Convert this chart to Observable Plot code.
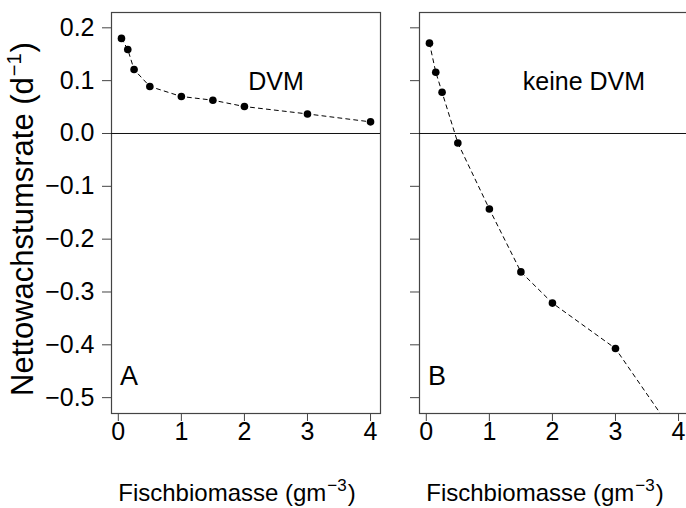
<!DOCTYPE html>
<html>
<head>
<meta charset="utf-8">
<script src="https://cdn.jsdelivr.net/npm/d3@7"></script>
<script src="https://cdn.jsdelivr.net/npm/@observablehq/plot@0.6"></script>
<style>
  html, body { margin: 0; padding: 0; background: #fff; }
  #wrap { position: relative; width: 686px; height: 508px; overflow: hidden; background: #fff; }
  #wrap svg { position: absolute; top: 0; }
</style>
</head>
<body>
<div id="wrap"></div>
<script>
// ---- data ----
const biomassDVM = [0.05, 0.15, 0.25, 0.5, 1, 1.5, 2, 3, 4];
const rateDVM    = [0.180, 0.159, 0.121, 0.089, 0.070, 0.063, 0.051, 0.037, 0.022];
const biomassNoDVM = [0.05, 0.15, 0.25, 0.5, 1, 1.5, 2, 3, 4];
const rateNoDVM    = [0.171, 0.116, 0.078, -0.018, -0.143, -0.262, -0.321, -0.407, -0.58];
const xTicks = [0, 1, 2, 3, 4];
const yTicks = [-0.5, -0.4, -0.3, -0.2, -0.1, 0.0, 0.1, 0.2];
const panelLabels = ["A", "B"];
const panelTitles = ["DVM", "keine DVM"];
const xTitleParts = ["Fischbiomasse (gm", "−3", ")"];
const yTitleParts = ["Nettowachstumsrate (d", "−1", ")"];

const dataA = biomassDVM.map((x, i) => ({x, y: rateDVM[i]}));
const dataB = biomassNoDVM.map((x, i) => ({x, y: rateNoDVM[i]}));

const FONT = "'Liberation Sans', Arial, Helvetica, sans-serif";
const TICK_FS = 25;
const xDomain = [-0.108, 4.158];
const yDomain = [-0.530, 0.229];
const INK = "#444";
const fmtY = d3.format(".1f");

function panel({data, width, marginLeft, marginRight, showYLabels, label, title}) {
  const marks = [
    Plot.frame({stroke: INK, strokeWidth: 1.2}),
    Plot.ruleY([0], {stroke: "#111", strokeWidth: 1}),
    Plot.axisX({ticks: xTicks, tickSize: 8, stroke: INK, label: null, text: null}),
    Plot.text(xTicks, {x: d => d, frameAnchor: "bottom", dy: 26, text: d => String(d), fontSize: TICK_FS, fill: "black", textAnchor: "middle"}),
    Plot.axisY({ticks: yTicks, tickSize: 9, stroke: INK, label: null, text: null}),
    Plot.line(data, {x: "x", y: "y", stroke: "black", strokeWidth: 1, strokeDasharray: "4,4", clip: true}),
    Plot.dot(data, {x: "x", y: "y", r: 3.8, fill: "black", stroke: "none", clip: true}),
    Plot.text([title], {x: 2.5, y: 0.097, text: d => d, fontSize: 25, fill: "black", textAnchor: "middle"}),
    Plot.text([label], {x: 0.17, y: -0.459, text: d => d, fontSize: 27, fill: "black", textAnchor: "middle"}),
    Plot.text([xTitleParts.join("")], {frameAnchor: "bottom", dy: 87, dx: -9, text: d => d, fontSize: 24, fill: "black", textAnchor: "middle"})
  ];
  if (showYLabels) {
    marks.push(Plot.text(yTicks, {y: d => d, frameAnchor: "left", dx: -17, text: d => fmtY(d), fontSize: TICK_FS, fill: "black", textAnchor: "end"}));
    marks.push(Plot.text([yTitleParts.join("")], {frameAnchor: "left", dx: -88, dy: 6, rotate: -90, text: d => d, fontSize: 31, fill: "black", textAnchor: "middle"}));
  }
  return Plot.plot({
    width, height: 508,
    marginLeft, marginRight, marginTop: 12, marginBottom: 95,
    x: {domain: xDomain},
    y: {domain: yDomain},
    style: {fontFamily: FONT, fontSize: "24px", color: "black", background: "transparent", overflow: "visible"},
    marks
  });
}

// turn "…(gm−3)" into real superscript tspans
function superscript(svg, parts, supSize, rise) {
  svg.querySelectorAll("text").forEach(t => {
    if (t.textContent !== parts.join("")) return;
    while (t.firstChild) t.removeChild(t.firstChild);
    const ns = "http://www.w3.org/2000/svg";
    const s1 = document.createElementNS(ns, "tspan"); s1.textContent = parts[0];
    const s2 = document.createElementNS(ns, "tspan"); s2.textContent = parts[1];
    s2.setAttribute("dy", -rise); s2.setAttribute("font-size", supSize); s2.setAttribute("dx", 1);
    const s3 = document.createElementNS(ns, "tspan"); s3.textContent = parts[2];
    s3.setAttribute("dy", rise); s3.setAttribute("dx", 1);
    t.append(s1, s2, s3);
  });
}

const wrap = document.getElementById("wrap");
const a = panel({data: dataA, width: 390, marginLeft: 111, marginRight: 10, showYLabels: true,
  label: panelLabels[0], title: panelTitles[0]});
a.style.left = "0px";
const b = panel({data: dataB, width: 320, marginLeft: 39, marginRight: 12, showYLabels: false,
  label: panelLabels[1], title: panelTitles[1]});
b.style.left = "380px";
[a, b].forEach(svg => superscript(svg, xTitleParts, 17, 10));
superscript(a, yTitleParts, 20, 12);
wrap.appendChild(a);
wrap.appendChild(b);
</script>
</body>
</html>
